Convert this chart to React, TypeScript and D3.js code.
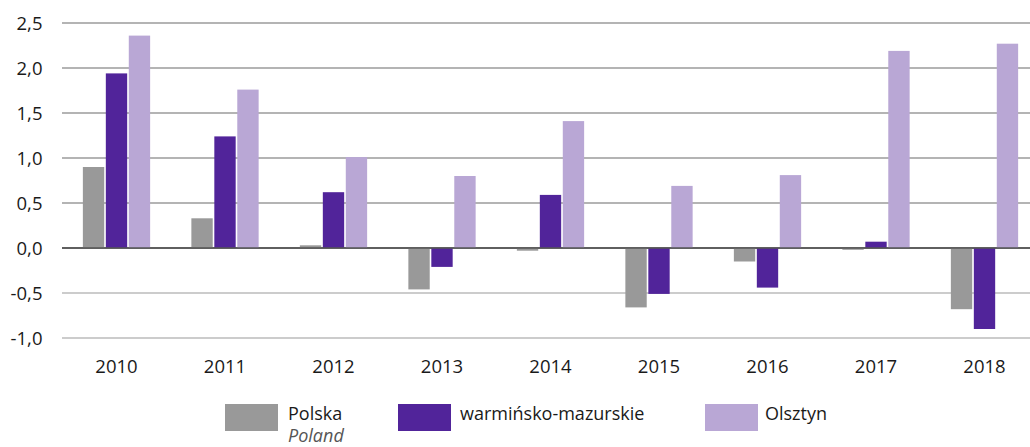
import React from "react";
import * as d3 from "d3";

const years = ["2010", "2011", "2012", "2013", "2014", "2015", "2016", "2017", "2018"];
const polska = [0.9, 0.33, 0.03, -0.46, -0.03, -0.66, -0.15, -0.02, -0.68];
const warminsko = [1.94, 1.24, 0.62, -0.21, 0.59, -0.51, -0.44, 0.07, -0.9];
const olsztyn = [2.36, 1.76, 1.01, 0.8, 1.41, 0.69, 0.81, 2.19, 2.27];
const yTicks = [-1, -0.5, 0, 0.5, 1, 1.5, 2, 2.5];
const seriesNames = ["Polska", "warmińsko-mazurskie", "Olsztyn"];
const seriesColors = ["#999999", "#51249a", "#b9a7d5"];

const W = 1030;
const H = 447;
const FONT = "'Open Sans', 'Noto Sans', sans-serif";

export default function App() {
  const series = [polska, warminsko, olsztyn];
  const x = d3
    .scaleBand<string>()
    .domain(years)
    .range([62.25, 1038.75])
    .paddingInner(0.38)
    .paddingOuter(0.19);
  const xs = d3
    .scaleBand<number>()
    .domain([0, 1, 2])
    .range([0, x.bandwidth()])
    .paddingInner(0.07);
  const y = d3.scaleLinear().domain([-1, 2.5]).range([338, 23]);
  const fmt = (v: number) => d3.format(".1f")(v).replace(".", ",").replace("−", "-");

  const legendX = [225, 398, 705];

  return (
    <svg
      width={W}
      height={H}
      style={{ position: "absolute", left: 0, top: 0, background: "#fff" }}
      fontFamily={FONT}
    >
      {yTicks.map((t) => (
        <g key={t}>
          <line
            x1={62}
            x2={W}
            y1={y(t)}
            y2={y(t)}
            stroke={t === 0 ? "#555" : t < 0 ? "#9a9a9a" : "#6a6a6a"}
            strokeWidth={t === 0 ? 1.4 : 1.1}
          />
          <text
            x={42.5}
            y={y(t)}
            dy="0.36em"
            textAnchor="end"
            fontSize={18.5}
            fill="#1a1a1a"
          >
            {fmt(t)}
          </text>
        </g>
      ))}
      {years.map((yr, i) => (
        <g key={yr} transform={`translate(${x(yr)},0)`}>
          {series.map((s, j) => {
            const v = s[i];
            const y0 = y(0);
            const y1 = y(v);
            return (
              <rect
                key={j}
                x={xs(j)}
                width={xs.bandwidth()}
                y={Math.min(y0, y1)}
                height={Math.abs(y1 - y0)}
                fill={seriesColors[j]}
              />
            );
          })}
        </g>
      ))}
      <line x1={62} x2={W} y1={y(0)} y2={y(0)} stroke="#555" strokeWidth={1.4} />
      {years.map((yr) => (
        <text
          key={yr}
          x={(x(yr) as number) + x.bandwidth() / 2}
          y={372.5}
          textAnchor="middle"
          fontSize={18.5}
          fill="#1a1a1a"
        >
          {yr}
        </text>
      ))}
      {seriesNames.map((name, j) => (
        <g key={name}>
          <rect x={legendX[j]} y={404} width={53} height={27} fill={seriesColors[j]} />
          <text x={legendX[j] + (j === 0 ? 63 : j === 1 ? 62 : 60)} y={420} fontSize={18} fill="#1a1a1a">
            {name}
          </text>
        </g>
      ))}
      <text x={288} y={442} fontSize={18} fontStyle="italic" fill="#555">
        Poland
      </text>
    </svg>
  );
}
